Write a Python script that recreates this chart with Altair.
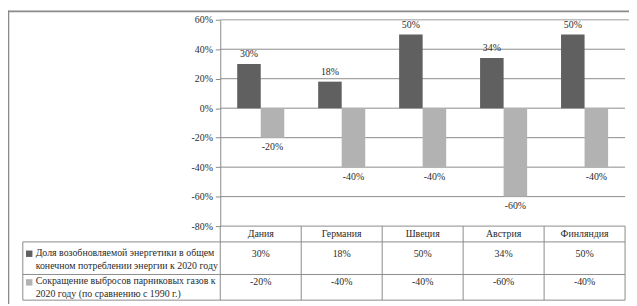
import altair as alt
import pandas as pd

# ---- data ----
categories = ["Дания", "Германия", "Швеция", "Австрия", "Финляндия"]
renewable = [30, 18, 50, 34, 50]
emissions = [-20, -40, -40, -60, -40]
series = [
    "Доля возобновляемой энергетики в общем\nконечном потреблении энергии к 2020 году",
    "Сокращение выбросов парниковых газов к\n2020 году (по сравнению с 1990 г.)",
]
y_ticks = [-80, -60, -40, -20, 0, 20, 40, 60]

FONT = "Liberation Serif"
FS = 10
TXT = "#2b2b2b"
DARK = "#606060"
LIGHT = "#b2b2b2"
LINE = "#8a8a8a"

rows = []
for i, c in enumerate(categories):
    for s, vals in zip(series, [renewable, emissions]):
        v = vals[i]
        rows.append({"category": c, "series": s, "v": v, "label": f"{v}%"})
df = pd.DataFrame(rows)
df_cat = pd.DataFrame({"category": categories})
df_grid = pd.DataFrame({"v": [t for t in y_ticks if t not in (y_ticks[0], y_ticks[-1])]})
df_top = pd.DataFrame({"v": [y_ticks[-1]]})
df_series = pd.DataFrame({"series": series})

xscale = alt.Scale(domain=categories, range=[200, 610], paddingInner=0, paddingOuter=0)
yscale = alt.Scale(domain=[y_ticks[0], y_ticks[-1]], range=[209, 0], nice=False, zero=False)
yaxis = alt.Axis(values=y_ticks, labelExpr="datum.value + '%'", grid=False, offset=-200,
                 domainColor=LINE, tickColor=LINE, tickSize=5, labelPadding=3,
                 labelFont=FONT, labelFontSize=FS, labelColor=TXT, title=None)
cscale = alt.Scale(domain=series, range=[DARK, LIGHT])


def X():
    return alt.X("category:N", scale=xscale, axis=None, sort=categories)


def Y(field):
    return alt.Y(f"{field}:Q", scale=yscale, axis=yaxis)


XO = alt.XOffset("series:N", scale=alt.Scale(domain=series, paddingInner=0, paddingOuter=0.72))
COL = alt.Color("series:N", scale=cscale, legend=None)

grid = alt.Chart(df_grid).mark_rule(color=LINE, strokeWidth=1).encode(
    y=Y("v"), x=alt.value(200), x2=alt.value(610))
top = alt.Chart(df_top).mark_rule(color="#bdbdbd", strokeWidth=1.6).encode(
    y=Y("v"), x=alt.value(200), x2=alt.value(614))

bars = alt.Chart(df).mark_bar().encode(x=X(), xOffset=XO, y=Y("v"), color=COL)

txt = dict(font=FONT, fontSize=FS, color=TXT)
pos_lab = alt.Chart(df).transform_filter("datum.v > 0").mark_text(dy=-10, **txt).encode(
    x=X(), xOffset=XO, y=Y("v"), text="label:N")
neg_lab = alt.Chart(df).transform_filter("datum.v < 0").mark_text(dy=10, **txt).encode(
    x=X(), xOffset=XO, y=Y("v"), text="label:N")

# ---- table ----
tl = dict(color=LINE, strokeWidth=1)
h1 = alt.Chart(df_cat.head(1)).mark_rule(**tl).encode(
    x=alt.value(200), x2=alt.value(610), y=alt.value(209))
h2 = alt.Chart(df_cat.head(1)).mark_rule(**tl).encode(
    x=alt.value(0), x2=alt.value(610), y=alt.value(225))
h3 = alt.Chart(df_cat.head(1)).mark_rule(**tl).encode(
    x=alt.value(0), x2=alt.value(610), y=alt.value(258))
h4 = alt.Chart(df_cat.head(1)).mark_rule(**tl).encode(
    x=alt.value(0), x2=alt.value(610), y=alt.value(284))
v0 = alt.Chart(df_cat.head(1)).mark_rule(**tl).encode(
    x=alt.value(0), y=alt.value(225), y2=alt.value(284))
v1 = alt.Chart(df_cat.head(1)).mark_rule(**tl).encode(
    x=alt.value(200), y=alt.value(209), y2=alt.value(284))
vcat = alt.Chart(df_cat).mark_rule(**tl).encode(
    x=alt.X("category:N", scale=xscale, axis=None, sort=categories, bandPosition=1),
    y=alt.value(209), y2=alt.value(284))

head = alt.Chart(df_cat).mark_text(baseline="middle", **txt).encode(
    x=X(), y=alt.value(217.5), text="category:N")
row1 = alt.Chart(df).transform_filter(alt.datum.series == series[0]).mark_text(
    baseline="middle", **txt).encode(x=X(), y=alt.value(237), text="label:N")
row2 = alt.Chart(df).transform_filter(alt.datum.series == series[1]).mark_text(
    baseline="middle", **txt).encode(x=X(), y=alt.value(266), text="label:N")

lab1 = alt.Chart(df_series.head(1)).mark_text(
    align="left", baseline="top", lineBreak="\n", lineHeight=13, **txt).encode(
    x=alt.value(13), y=alt.value(231), text="series:N")
lab2 = alt.Chart(df_series.tail(1)).mark_text(
    align="left", baseline="top", lineBreak="\n", lineHeight=13, **txt).encode(
    x=alt.value(13), y=alt.value(260), text="series:N")
sq1 = alt.Chart(df_series.head(1)).mark_square(size=42, opacity=1).encode(
    x=alt.value(6.5), y=alt.value(237), color=COL)
sq2 = alt.Chart(df_series.tail(1)).mark_square(size=42, opacity=1).encode(
    x=alt.value(6.5), y=alt.value(266), color=COL)

# ---- outer frame ----
fr_top = alt.Chart(df_cat.head(1)).mark_rule(color="#8a8a8a", strokeWidth=1.6).encode(
    x=alt.value(-15), x2=alt.value(620), y=alt.value(-8.5))
fr_left = alt.Chart(df_cat.head(1)).mark_rule(color="#8a8a8a", strokeWidth=1.6).encode(
    x=alt.value(-14.5), y=alt.value(-9.3), y2=alt.value(300))

chart = alt.layer(
    grid, top, bars, pos_lab, neg_lab,
    h1, h2, h3, h4, v0, v1, vcat, head, row1, row2, lab1, lab2, sq1, sq2,
    fr_top, fr_left,
).properties(
    width=610, height=284,
    padding={"left": 15, "top": 10, "right": 4, "bottom": 2},
    autosize="none", background="white",
).configure_view(stroke=None)

chart.save("out.html", embed_options={"renderer": "svg", "actions": False})
